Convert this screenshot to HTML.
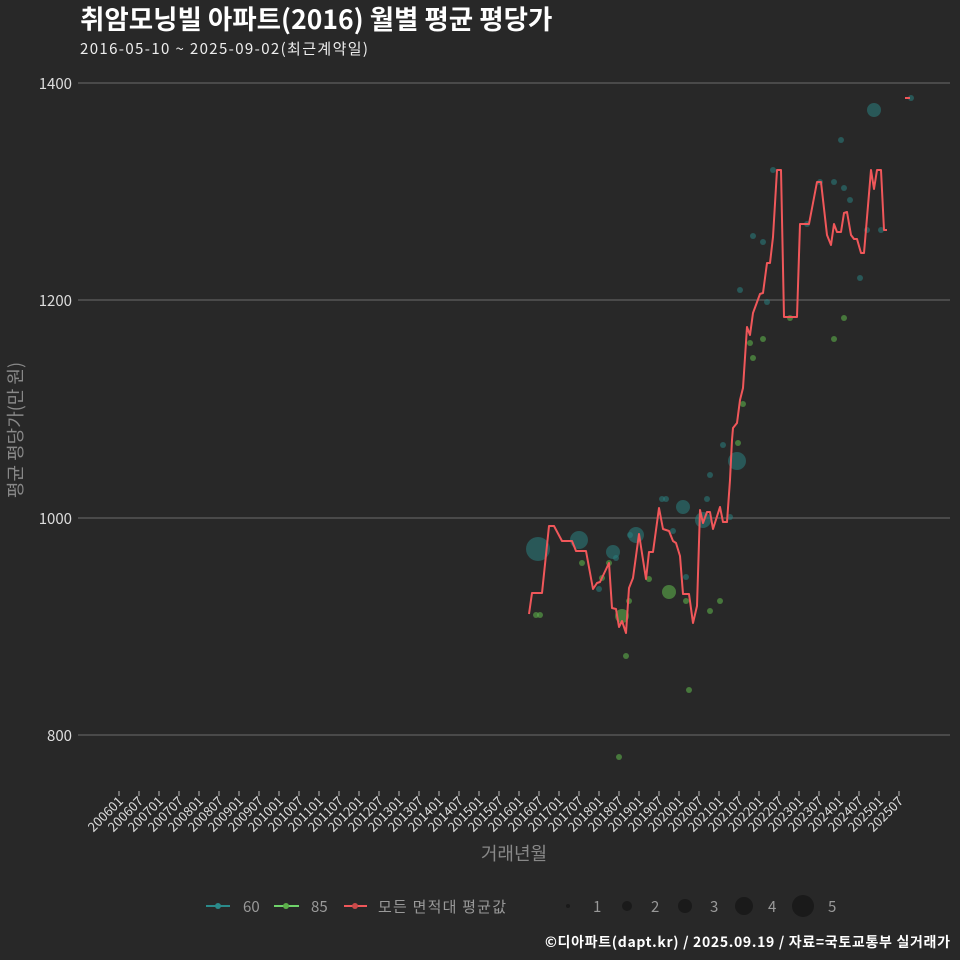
<!DOCTYPE html><html><head><meta charset="utf-8"><style>body{margin:0;background:#282828}svg{display:block}text{font-family:"Noto Sans CJK KR","Liberation Sans",sans-serif}</style></head><body>
<svg width="960" height="960" viewBox="0 0 960 960">
<rect width="960" height="960" fill="#282828"/>
<text x="80" y="29" font-size="26.5" font-weight="bold" fill="#fff">취암모닝빌 아파트(2016) 월별 평균 평당가</text>
<text x="80" y="54" font-size="15" fill="#eee" textLength="288">2016-05-10 ~ 2025-09-02(최근계약일)</text>
<g stroke="#5f5f5f" stroke-width="1.2">
<line x1="78" y1="83" x2="950" y2="83"/><line x1="78" y1="300" x2="950" y2="300"/><line x1="78" y1="518" x2="950" y2="518"/><line x1="78" y1="735" x2="950" y2="735"/></g>
<g font-size="15" fill="#ddd" text-anchor="end"><text x="72" y="89">1400</text><text x="72" y="306">1200</text><text x="72" y="524">1000</text><text x="72" y="741">800</text></g>
<text transform="translate(22,430) rotate(-90)" font-size="18" fill="#888" text-anchor="middle">평균 평당가(만 원)</text>
<text x="514" y="860" font-size="18" fill="#888" text-anchor="middle">거래년월</text>
<g stroke="#bbb" stroke-width="1">
<path d="M119 791v5M139 791v5M159 791v5M179 791v5M199 791v5M219 791v5M239 791v5M259 791v5M279 791v5M299 791v5M319 791v5M339 791v5M359 791v5M379 791v5M399 791v5M419 791v5M439 791v5M459 791v5M479 791v5M499 791v5M519 791v5M539 791v5M559 791v5M579 791v5M599 791v5M619 791v5M639 791v5M659 791v5M679 791v5M699 791v5M719 791v5M739 791v5M759 791v5M779 791v5M799 791v5M819 791v5M839 791v5M859 791v5M879 791v5M899 791v5"/></g>
<g font-size="13" fill="#ddd" text-anchor="end">
<text transform="translate(124,802) rotate(-45)">200601</text><text transform="translate(144,802) rotate(-45)">200607</text><text transform="translate(164,802) rotate(-45)">200701</text><text transform="translate(184,802) rotate(-45)">200707</text><text transform="translate(204,802) rotate(-45)">200801</text><text transform="translate(224,802) rotate(-45)">200807</text><text transform="translate(244,802) rotate(-45)">200901</text><text transform="translate(264,802) rotate(-45)">200907</text><text transform="translate(284,802) rotate(-45)">201001</text><text transform="translate(304,802) rotate(-45)">201007</text><text transform="translate(324,802) rotate(-45)">201101</text><text transform="translate(344,802) rotate(-45)">201107</text><text transform="translate(364,802) rotate(-45)">201201</text><text transform="translate(384,802) rotate(-45)">201207</text><text transform="translate(404,802) rotate(-45)">201301</text><text transform="translate(424,802) rotate(-45)">201307</text><text transform="translate(444,802) rotate(-45)">201401</text><text transform="translate(464,802) rotate(-45)">201407</text><text transform="translate(484,802) rotate(-45)">201501</text><text transform="translate(504,802) rotate(-45)">201507</text><text transform="translate(524,802) rotate(-45)">201601</text><text transform="translate(544,802) rotate(-45)">201607</text><text transform="translate(564,802) rotate(-45)">201701</text><text transform="translate(584,802) rotate(-45)">201707</text><text transform="translate(604,802) rotate(-45)">201801</text><text transform="translate(624,802) rotate(-45)">201807</text><text transform="translate(644,802) rotate(-45)">201901</text><text transform="translate(664,802) rotate(-45)">201907</text><text transform="translate(684,802) rotate(-45)">202001</text><text transform="translate(704,802) rotate(-45)">202007</text><text transform="translate(724,802) rotate(-45)">202101</text><text transform="translate(744,802) rotate(-45)">202107</text><text transform="translate(764,802) rotate(-45)">202201</text><text transform="translate(784,802) rotate(-45)">202207</text><text transform="translate(804,802) rotate(-45)">202301</text><text transform="translate(824,802) rotate(-45)">202307</text><text transform="translate(844,802) rotate(-45)">202401</text><text transform="translate(864,802) rotate(-45)">202407</text><text transform="translate(884,802) rotate(-45)">202501</text><text transform="translate(904,802) rotate(-45)">202507</text></g>
<g fill="#2a7f7f" fill-opacity="0.55">
<circle cx="538" cy="549" r="12"/><circle cx="579" cy="540" r="9"/><circle cx="636" cy="535" r="8"/><circle cx="683" cy="507" r="7"/><circle cx="737" cy="461" r="9"/><circle cx="874" cy="110" r="7"/><circle cx="613" cy="552" r="7"/><circle cx="703" cy="520" r="8"/><circle cx="630" cy="535" r="3"/>
<circle cx="662" cy="499" r="3"/><circle cx="666" cy="499" r="3"/><circle cx="616" cy="558" r="3"/><circle cx="599" cy="589" r="3"/><circle cx="673" cy="531" r="3"/><circle cx="686" cy="577" r="3"/><circle cx="707" cy="499" r="3"/><circle cx="730" cy="517" r="3"/><circle cx="740" cy="290" r="3"/><circle cx="753" cy="236" r="3"/><circle cx="763" cy="242" r="3"/><circle cx="773" cy="170" r="3"/><circle cx="767" cy="302" r="3"/><circle cx="807" cy="224" r="3"/><circle cx="820" cy="182" r="3"/><circle cx="834" cy="182" r="3"/><circle cx="844" cy="188" r="3"/><circle cx="850" cy="200" r="3"/><circle cx="841" cy="140" r="3"/><circle cx="860" cy="278" r="3"/><circle cx="867" cy="230" r="3"/><circle cx="881" cy="230" r="3"/><circle cx="911" cy="98" r="3"/><circle cx="710" cy="475" r="3"/><circle cx="723" cy="445" r="3"/></g>
<g fill="#5cae4a" fill-opacity="0.6">
<circle cx="669" cy="592" r="7"/><circle cx="622" cy="616" r="7"/><circle cx="536" cy="615" r="3"/><circle cx="540" cy="615" r="3"/><circle cx="582" cy="563" r="3"/><circle cx="602" cy="578" r="3"/><circle cx="609" cy="563" r="3"/><circle cx="629" cy="601" r="3"/><circle cx="626" cy="656" r="3"/><circle cx="619" cy="757" r="3"/><circle cx="649" cy="579" r="3"/><circle cx="686" cy="601" r="3"/><circle cx="689" cy="690" r="3"/><circle cx="710" cy="611" r="3"/><circle cx="720" cy="601" r="3"/><circle cx="743" cy="404" r="3"/><circle cx="750" cy="343" r="3"/><circle cx="753" cy="358" r="3"/><circle cx="763" cy="339" r="3"/><circle cx="790" cy="318" r="3"/><circle cx="834" cy="339" r="3"/><circle cx="844" cy="318" r="3"/><circle cx="738" cy="443" r="3"/></g>
<polyline fill="none" stroke="#f0575a" stroke-width="2" stroke-linejoin="round" points="529,614 532,593 542,593 549,526 554,526 562,541 572,541 576,551 586,551 593,589 597,583 600,582 609,563 612,608 616,609 619,627 622,621 626,633 629,588 633,578 639,534 646,579 649,552 653,552 659,508 663,529 669,531 673,541 676,543 680,556 683,594 689,594 693,623 697,606 700,510 703,523 707,512 710,512 713,529 720,507 723,522 727,522 730,480 732,440 733,428 737,423 740,400 743,388 747,327 750,335 753,313 760,294 763,293 767,263 770,263 773,237 777,170 781,170 784,317 797,317 800,224 809,224 817,182 821,182 827,235 831,245 834,224 837,232 841,232 844,213 847,212 851,235 854,239 857,239 861,253 864,253 871,170 874,189 877,170 881,170 884,230 887,230"/>
<line x1="905" y1="98" x2="910" y2="98" stroke="#f0575a" stroke-width="2"/>
<g font-size="15" fill="#999">
<line x1="206" y1="906" x2="230" y2="906" stroke="#2a8a8a" stroke-width="2"/><circle cx="218" cy="906" r="3" fill="#2a8a8a"/><text x="243" y="912">60</text>
<line x1="274" y1="906" x2="299" y2="906" stroke="#6fd36a" stroke-width="2"/><circle cx="286" cy="906" r="3" fill="#5cae4a"/><text x="311" y="912">85</text>
<line x1="344" y1="906" x2="367" y2="906" stroke="#f0575a" stroke-width="2"/><circle cx="355" cy="906" r="3" fill="#c94a4a"/><text x="378" y="912" textLength="128" font-size="15">모든 면적대 평균값</text>
<g fill="#1a1a1a"><circle cx="568" cy="906" r="2"/><circle cx="627" cy="906" r="5"/><circle cx="685" cy="906" r="7"/><circle cx="744" cy="906" r="9"/><circle cx="803" cy="906" r="11"/></g>
<text x="593" y="912">1</text><text x="651" y="912">2</text><text x="710" y="912">3</text><text x="768" y="912">4</text><text x="828" y="912">5</text></g>
<text x="950" y="947" font-size="14" font-weight="bold" fill="#fff" text-anchor="end" textLength="405">©디아파트(dapt.kr) / 2025.09.19 / 자료=국토교통부 실거래가</text>
</svg></body></html>
